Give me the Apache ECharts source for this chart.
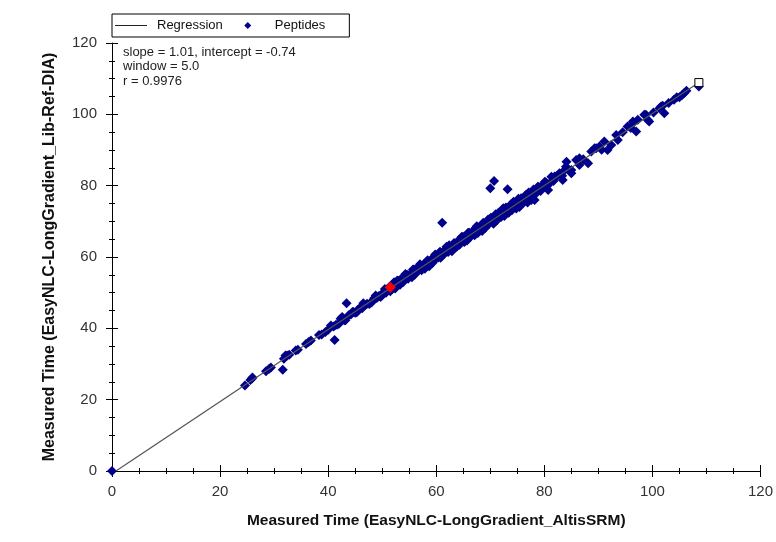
<!DOCTYPE html>
<html>
<head>
<meta charset="utf-8">
<script src="https://cdn.jsdelivr.net/npm/echarts@6/dist/echarts.min.js"></script>
<style>
    html, body { margin: 0; padding: 0; background: #fff; }
    #chartId { width: 776px; height: 542px; }
</style>
</head>
<body>
<div id="chartId"></div>
<script>
// 坐标轴刻度
var axisTicks = [0, 20, 40, 60, 80, 100, 120];

// 回归线端点
var regressionX = [0.73, 108.6];
var regressionY = [0, 108.95];

// 肽段保留时间 [x, y]
var peptidePoints = [
    [0, 0],
    [24.6, 24.0], [25.6, 25.5], [26.0, 26.2], [25.9, 25.9], [28.5, 28.0], [29.1, 28.7], [29.4, 29.0],
    [31.8, 31.5], [32.1, 32.4], [32.4, 32.4], [32.8, 32.6], [34.0, 33.8], [34.4, 34.0], [35.9, 35.6],
    [36.4, 36.2], [36.8, 36.6], [38.3, 38.1], [38.8, 38.3], [39.5, 39.0], [40.0, 39.6], [41.0, 40.5],
    [41.4, 40.9], [42.0, 41.3], [42.6, 43.2], [43.0, 42.3], [43.8, 43.7], [44.2, 43.9], [44.7, 44.6],
    [45.0, 44.4], [45.5, 45.2], [46.0, 45.9], [46.3, 45.6], [46.8, 46.5], [47.2, 46.9], [47.6, 46.8],
    [48.1, 47.4], [48.5, 48.4], [49.0, 48.5], [49.4, 49.1], [50.0, 49.3], [50.3, 50.2], [50.7, 50.0],
    [51.0, 50.9],
    [51.3, 51.6], [51.8, 51.0], [52.2, 52.9], [52.6, 52.1], [53.0, 53.2], [53.3, 52.2], [53.7, 54.2],
    [54.1, 53.7], [54.3, 55.2], [54.8, 53.9], [55.2, 55.3], [55.5, 54.3], [55.9, 56.5], [56.2, 55.6],
    [56.6, 56.6], [57.0, 58.0], [57.3, 56.3], [57.7, 58.0], [58.0, 57.5], [58.4, 59.1], [58.7, 57.4],
    [59.1, 59.4], [59.4, 58.8], [59.8, 60.7], [60.1, 59.8], [60.5, 61.0], [60.8, 59.8], [61.2, 61.4],
    [61.5, 60.9], [61.9, 62.9], [62.2, 61.4], [62.6, 62.7], [62.9, 61.6], [63.3, 63.9], [63.6, 63.2],
    [64.0, 64.4], [64.3, 63.4], [64.7, 65.6], [65.0, 64.8], [65.4, 65.7], [65.7, 64.6], [66.1, 66.8],
    [66.4, 65.9], [66.8, 67.0], [67.1, 66.1], [67.5, 68.6], [67.8, 67.2], [68.2, 68.7], [68.5, 67.3],
    [68.9, 69.1], [69.2, 68.6], [69.6, 70.5], [69.9, 69.7], [70.3, 70.8], [70.6, 69.3], [71.0, 72.0],
    [71.3, 70.9], [71.7, 72.0], [72.0, 71.2], [72.4, 73.7], [72.7, 72.4], [73.1, 73.7], [73.4, 72.4],
    [73.8, 74.7], [74.1, 73.6], [74.5, 74.7], [74.8, 73.6], [75.2, 76.3], [75.5, 75.1], [75.9, 76.4],
    [76.2, 75.3], [76.6, 77.4], [76.9, 75.3], [77.3, 77.6], [77.6, 76.0], [78.0, 78.9], [78.2, 76.0],
    [78.6, 78.4], [79.0, 79.6], [79.3, 78.5], [79.7, 80.2], [80.1, 81.1], [80.5, 80.0], [81.3, 82.5],
    [81.7, 81.3], [82.3, 82.7], [82.8, 83.5], [83.3, 82.8],
    [40.5, 40.8], [41.7, 41.1], [42.3, 42.7], [43.2, 42.3], [44.5, 44.6], [45.3, 44.5], [46.5, 47.0],
    [47.9, 47.2], [48.8, 49.2], [49.7, 48.8], [50.5, 51.0], [51.5, 50.4], [52.0, 52.0], [52.4, 51.2],
    [52.8, 53.4], [53.5, 53.6], [53.9, 53.0], [54.6, 55.0], [55.0, 54.6], [55.7, 56.5], [56.0, 55.0],
    [56.4, 56.8], [56.8, 56.3], [57.5, 57.5], [57.9, 56.7], [58.2, 58.7], [58.9, 58.9], [59.3, 58.3],
    [59.6, 59.9], [60.3, 59.8], [60.7, 61.5], [61.0, 60.2], [61.7, 62.1], [62.0, 61.6], [62.4, 63.3],
    [62.8, 62.1], [63.1, 63.2], [63.8, 62.9], [64.2, 64.7], [64.5, 64.1], [64.9, 65.7], [65.2, 64.2],
    [65.6, 65.7], [65.9, 66.8], [66.3, 65.6], [66.6, 67.0], [67.0, 66.7], [67.3, 68.1], [67.7, 66.7],
    [68.0, 68.2], [68.4, 67.9], [68.7, 69.6], [69.1, 68.2], [69.4, 69.8], [69.8, 69.3], [70.1, 71.0],
    [70.5, 70.3], [70.8, 71.4], [71.2, 70.2], [71.5, 72.4], [71.9, 71.7], [72.2, 72.7], [72.6, 71.5],
    [72.9, 73.9], [73.3, 72.9], [73.6, 73.9], [74.0, 73.1], [74.3, 75.5], [74.7, 74.4], [75.0, 75.5],
    [75.4, 74.0], [75.7, 76.5], [76.1, 75.9], [76.4, 77.0], [76.8, 76.3], [77.1, 78.1], [77.5, 77.2],
    [77.8, 78.2], [78.4, 77.7], [78.8, 79.7], [79.5, 79.4], [80.3, 80.9], [81.0, 80.7], [81.9, 82.6],
    [83.6, 84.1], [80.7, 78.8], [83.4, 81.6], [84.0, 85.3],
    [84.1, 86.7], [84.4, 84.6], [85.0, 84.4], [85.0, 83.5], [85.9, 87.2], [86.5, 87.7], [86.5, 85.8],
    [87.2, 87.4], [88.1, 86.3], [88.7, 89.6], [89.3, 90.5], [89.6, 90.5], [90.2, 91.0], [90.6, 90.1],
    [91.1, 92.4], [91.7, 90.0], [92.4, 91.4], [93.3, 94.2], [93.6, 92.8], [94.5, 95.0], [95.4, 96.6],
    [96.0, 96.2], [96.4, 98.0], [96.4, 97.5], [97.0, 95.2], [97.3, 98.5], [98.5, 99.9], [98.8, 99.9],
    [99.1, 98.5], [99.4, 98.0], [100.2, 100.5], [101.3, 101.7], [101.6, 102.2], [101.9, 102.4],
    [102.2, 100.3], [103.0, 103.2], [104.0, 104.1], [104.5, 104.8], [105.0, 104.8], [105.5, 105.4],
    [105.9, 106.0], [106.3, 106.6], [108.6, 107.8],
    // 离群点
    [31.6, 28.4], [41.2, 36.7], [43.4, 47.0], [61.1, 69.6], [70.7, 81.3], [70.0, 79.3], [73.2, 79.0]
];

// 选中的肽段 / 回归线末端
var selectedPoint = [[51.5, 51.5]];
var endPoint = [[108.6, 108.9]];

var statsLines = ['slope = 1.01, intercept = -0.74', 'window = 5.0', 'r = 0.9976'];

var fontFamily = '"Liberation Sans", Arial, sans-serif';

/**
 * 生成坐标轴（两条叠加实现刻度穿过轴线）
 */
function makeAxis(pos, name, inside) {
    var axis = {
        type: 'value',
        position: pos,
        min: axisTicks[0],
        max: axisTicks[axisTicks.length - 1],
        interval: axisTicks[1] - axisTicks[0],
        splitLine: { show: false },
        axisLine: { show: !inside, onZero: false, lineStyle: { color: '#000', width: 1 } },
        axisTick: { show: true, inside: inside, length: 6, lineStyle: { color: '#000' } },
        minorTick: { show: true, splitNumber: 4, length: 3, lineStyle: { color: '#000' } },
        axisLabel: {
            show: !inside,
            color: '#333',
            fontSize: 15,
            fontFamily: fontFamily,
            margin: pos === 'bottom' ? 13 : 15
        }
    };
    if (!inside) {
        axis.name = name;
        axis.nameLocation = 'middle';
        axis.nameTextStyle = {
            fontWeight: 'bold',
            fontSize: pos === 'bottom' ? 15.5 : 16,
            color: '#111',
            fontFamily: fontFamily
        };
        axis.nameGap = pos === 'bottom' ? 42 : 54;
    }
    return axis;
}

var chart = echarts.init(document.getElementById('chartId'));
var regressionData = regressionX.map(function (x, i) { return [x, regressionY[i]]; });

var option = {
    backgroundColor: '#fff',
    animation: false,
    textStyle: { fontFamily: fontFamily },
    grid: { left: 112, right: 13, top: 43, bottom: 71 },
    legend: {
        left: 112,
        top: 14,
        orient: 'horizontal',
        borderColor: '#000',
        borderWidth: 1,
        padding: [5, 24, 5, 3],
        itemGap: 10,
        itemWidth: 37,
        itemHeight: 10,
        textStyle: { fontSize: 13, color: '#111', fontFamily: fontFamily },
        data: [
            { name: 'Regression', icon: 'path://M0,0M37,10M0,4.5L32,4.5L32,5.5L0,5.5Z', itemStyle: { color: '#222' } },
            { name: 'Peptides', icon: 'path://M0,0M37,10M15,1.5L18.5,5L15,8.5L11.5,5Z' }
        ]
    },
    xAxis: [makeAxis('bottom', 'Measured Time (EasyNLC-LongGradient_AltisSRM)', false), makeAxis('bottom', '', true)],
    yAxis: [makeAxis('left', 'Measured Time (EasyNLC-LongGradient_Lib-Ref-DIA)', false), makeAxis('left', '', true)],
    graphic: [
        {
            type: 'text',
            left: 123,
            top: 45,
            style: {
                text: statsLines.join('\n'),
                fontSize: 13,
                lineHeight: 14.5,
                fill: '#222',
                fontFamily: fontFamily
            }
        }
    ],
    series: [
        {
            name: 'Peptides',
            type: 'scatter',
            symbol: 'diamond',
            symbolSize: 10,
            itemStyle: { color: '#00008b', opacity: 1 },
            data: peptidePoints,
            z: 2
        },
        {
            name: 'Regression',
            type: 'line',
            symbol: 'none',
            lineStyle: { color: '#555', width: 1.2 },
            itemStyle: { color: '#222' },
            data: regressionData,
            z: 3
        },
        {
            name: 'Selected',
            type: 'scatter',
            symbol: 'diamond',
            symbolSize: 11,
            itemStyle: { color: '#ff0000', opacity: 1 },
            data: selectedPoint,
            z: 4
        },
        {
            name: 'End',
            type: 'scatter',
            symbol: 'rect',
            symbolSize: 8,
            itemStyle: { color: '#fff', borderColor: '#000', borderWidth: 1, opacity: 1 },
            data: endPoint,
            z: 4
        }
    ]
};
chart.setOption(option);
</script>
</body>
</html>
